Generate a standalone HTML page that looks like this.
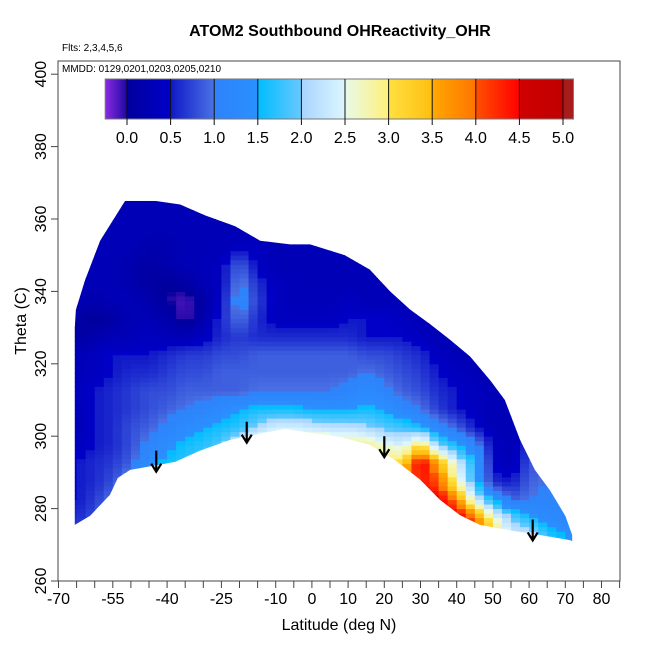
<!DOCTYPE html>
<html><head><meta charset="utf-8"><style>
body{margin:0;background:#fff;}
svg{display:block;font-family:"Liberation Sans",sans-serif;}
</style></head><body>
<svg id="chart" width="650" height="650" viewBox="0 0 650 650">
<defs><clipPath id="env"><polygon id="envpoly" points=""/></clipPath>
<linearGradient id="cbgrad" x1="0" x2="1" y1="0" y2="0"></linearGradient></defs>
<text x="340" y="36" text-anchor="middle" font-size="16" font-weight="bold">ATOM2 Southbound OHReactivity_OHR</text>
<text x="62" y="51" font-size="10">Flts: 2,3,4,5,6</text>
<g id="cells" clip-path="url(#env)"></g>
<g id="arrows"></g>
<rect x="58" y="61" width="562" height="520" fill="none" stroke="#444" stroke-width="1"/>
<text x="62" y="72" font-size="10">MMDD: 0129,0201,0203,0205,0210</text>
<g id="colorbar"></g>
<g id="xaxis"></g>
<g id="yaxis"></g>
<text x="339" y="630" text-anchor="middle" font-size="16">Latitude (deg N)</text>
<text transform="translate(26,321) rotate(-90)" text-anchor="middle" font-size="16">Theta (C)</text>
</svg>
<script>
const lats=[-65,-60,-55,-50,-45,-40,-35,-30,-25,-20,-15,-10,-5,0,5,10,15,20,25,30,35,40,45,50,55,60,65,70];
const thetas=[362.5,357.5,352.5,347.5,342.5,337.5,332.5,327.5,322.5,317.5,312.5,307.5,302.5,297.5,292.5,287.5,282.5,277.5,272.5];
const values=[
[0.3,0.3,0.3,0.3,0.3,0.3,0.3,0.3,0.3,0.3,0.3,0.3,0.3,0.3,0.3,0.3,0.3,0.3,0.3,0.3,0.3,0.3,0.3,0.3,0.3,0.3,0.3,0.3],
[0.3,0.3,0.3,0.3,0.3,0.3,0.3,0.3,0.3,0.3,0.3,0.3,0.3,0.3,0.3,0.3,0.3,0.3,0.3,0.3,0.3,0.3,0.3,0.3,0.3,0.3,0.3,0.3],
[0.3,0.3,0.3,0.3,0.2,0.2,0.3,0.3,0.3,0.4,0.4,0.3,0.3,0.3,0.3,0.3,0.3,0.3,0.3,0.3,0.3,0.3,0.3,0.3,0.3,0.3,0.3,0.3],
[0.3,0.3,0.3,0.2,0.1,0.2,0.3,0.3,0.4,0.9,0.4,0.3,0.3,0.3,0.3,0.3,0.3,0.3,0.3,0.3,0.3,0.3,0.3,0.3,0.3,0.3,0.3,0.3],
[0.3,0.3,0.3,0.2,0.1,0.0,0.1,0.3,0.4,1.1,0.6,0.4,0.3,0.3,0.3,0.3,0.3,0.3,0.3,0.3,0.3,0.3,0.3,0.3,0.3,0.3,0.3,0.3],
[0.3,0.2,0.3,0.3,0.2,0.0,-0.1,0.1,0.5,1.2,0.7,0.4,0.3,0.3,0.3,0.4,0.3,0.3,0.3,0.3,0.3,0.3,0.3,0.3,0.3,0.3,0.3,0.3],
[0.1,0.0,0.1,0.3,0.3,0.2,-0.1,0.2,0.6,1.0,0.6,0.4,0.4,0.4,0.4,0.5,0.5,0.5,0.4,0.3,0.3,0.3,0.3,0.3,0.3,0.3,0.3,0.3],
[0.1,0.2,0.3,0.3,0.4,0.3,0.3,0.4,0.6,0.7,0.6,0.6,0.6,0.6,0.6,0.6,0.5,0.5,0.5,0.4,0.3,0.3,0.1,0.3,0.3,0.3,0.3,0.3],
[0.3,0.4,0.5,0.5,0.5,0.6,0.7,0.7,0.8,0.8,0.9,0.9,0.9,0.9,0.9,0.9,0.8,0.8,0.7,0.6,0.4,0.3,0.3,0.3,0.3,0.3,0.3,0.3],
[0.3,0.4,0.5,0.6,0.6,0.7,0.8,0.8,0.9,0.9,0.9,0.9,0.9,0.9,0.9,0.9,1.0,0.9,0.8,0.7,0.5,0.4,0.3,0.3,0.3,0.3,0.3,0.3],
[0.4,0.5,0.6,0.7,0.8,0.8,0.9,0.9,0.9,0.9,1.0,1.0,1.0,1.0,1.0,1.1,1.3,1.1,0.9,0.8,0.6,0.5,0.4,0.3,0.3,0.3,0.3,0.3],
[0.3,0.5,0.6,0.7,0.8,0.9,1.0,1.1,1.3,1.5,1.6,1.6,1.6,1.5,1.5,1.5,1.6,1.5,1.2,1.0,0.7,0.5,0.4,0.3,0.3,0.3,0.4,0.5],
[0.3,0.5,0.6,0.8,0.9,1.1,1.3,1.5,1.6,1.7,2.1,2.4,2.4,2.3,2.2,2.2,2.1,1.9,1.8,1.6,1.2,0.9,0.5,0.3,0.3,0.4,0.6,0.8],
[0.4,0.5,0.6,0.8,1.1,1.4,1.6,1.7,1.9,2.6,2.9,3.0,3.0,3.0,3.0,3.0,2.9,2.6,2.4,3.2,2.0,1.6,1.2,0.4,0.3,0.6,0.9,1.0],
[0.5,0.6,0.7,0.9,1.4,1.6,1.7,1.8,2.2,3.0,3.0,3.0,3.0,3.0,3.0,3.0,3.0,3.0,3.2,4.6,3.6,2.4,1.6,0.5,0.3,0.8,1.0,1.1],
[0.5,0.6,0.8,1.2,1.6,1.7,1.8,1.8,2.2,3.0,3.0,3.0,3.0,3.0,3.0,3.0,3.0,3.0,3.5,4.4,4.0,2.8,1.7,0.6,0.5,0.9,1.0,1.1],
[0.5,0.7,1.0,1.5,1.6,1.7,1.8,1.8,2.2,3.0,3.0,3.0,3.0,3.0,3.0,3.0,3.0,3.0,3.5,4.6,4.6,3.8,2.4,1.6,0.9,1.0,1.1,1.1],
[0.6,0.8,1.2,1.5,1.6,1.7,1.8,1.8,2.2,3.0,3.0,3.0,3.0,3.0,3.0,3.0,3.0,3.0,3.5,4.6,4.8,4.7,4.0,2.6,2.0,1.6,1.3,1.2],
[0.8,1.0,1.3,1.5,1.6,1.7,1.8,1.8,2.2,3.0,3.0,3.0,3.0,3.0,3.0,3.0,3.0,3.0,3.5,4.6,4.8,4.8,3.6,3.6,2.3,2.4,1.7,1.5]
];
const topLat=[-65.5,-65.2,-62.7,-58.5,-51.6,-43.3,-36.4,-29.5,-21.2,-14.3,-6,-0.5,9.1,16,21.6,27.1,32.6,38.2,43.7,49.2,53.3,57.5,61.6,65.8,70,71.9];
const topTheta=[330,334.9,343,354,365,365,364,361,358,354,353,353,350,346,340,335,331,326.6,322,315.5,310,299,290.7,285,278,272.7];
const botLat=[71.9,71.3,63,54.7,46.4,40.9,35.4,29.9,23,16,7.8,-0.5,-7.4,-13,-22.6,-30.9,-37.8,-50.2,-53.6,-55.8,-61.3,-65.5];
const botTheta=[271,271.3,272.7,274,275.5,278.2,282.4,288,293.4,297.6,299.8,301,302,301,299,296,292.9,290.7,288.5,283.8,278,275.5];
const xTicks=[-70,-65,-60,-55,-50,-45,-40,-35,-30,-25,-20,-15,-10,-5,0,5,10,15,20,25,30,35,40,45,50,55,60,65,70,75,80,85];
const xLabels=[-70,-55,-40,-25,-10,0,10,20,30,40,50,60,70,80];
const yTicks=[260,280,300,320,340,360,380,400];
const cbTicks=[0.0,0.5,1.0,1.5,2.0,2.5,3.0,3.5,4.0,4.5,5.0];
const arrowLat=[-43,-18,20,61];
const arrowTheta=[296,304,300,277];

const NS='http://www.w3.org/2000/svg';
const xs=l=>58.5+(l+70)*3.62;
const ys=t=>581-(t-260)*3.62;
const stops=[[-0.25,[138,43,226]],[-0.02,[40,10,170]],[0,[0,0,156]],[0.5,[0,0,200]],[0.5,[16,24,200]],[1.0,[74,114,228]],[1.0,[46,130,250]],[1.5,[42,144,255]],[1.5,[0,188,255]],[2.0,[104,200,255]],[2.0,[168,212,255]],[2.5,[220,246,255]],[2.5,[232,250,232]],[3.0,[255,240,122]],[3.0,[255,224,64]],[3.5,[255,190,16]],[3.5,[255,168,0]],[4.0,[255,116,0]],[4.0,[255,80,0]],[4.5,[255,0,0]],[4.5,[208,0,0]],[5.0,[192,0,0]],[5.0,[168,28,28]],[5.2,[168,28,28]]];
function col(v){
  if(v<=stops[0][0])return 'rgb('+stops[0][1]+')';
  for(let i=0;i<stops.length-1;i++){const a=stops[i],b=stops[i+1];
    if(v>=a[0]&&v<=b[0]&&b[0]>a[0]){const f=(v-a[0])/(b[0]-a[0]);
      return 'rgb('+a[1].map((c,k)=>Math.round(c+(b[1][k]-c)*f)).join(',')+')';}}
  return 'rgb('+stops[stops.length-1][1]+')';
}
function mk(tag,attrs,parent){const e=document.createElementNS(NS,tag);for(const k in attrs)e.setAttribute(k,attrs[k]);parent.appendChild(e);return e;}
// sample the grid (bilinear, used only for smooth rendering)
function sample(l,t){
  let fj=(l-lats[0])/5, fi=(thetas[0]-t)/5;
  fj=Math.max(0,Math.min(lats.length-1,fj)); fi=Math.max(0,Math.min(thetas.length-1,fi));
  const j0=Math.floor(fj),i0=Math.floor(fi),j1=Math.min(j0+1,lats.length-1),i1=Math.min(i0+1,thetas.length-1);
  const a=fj-j0,b=fi-i0;
  return (values[i0][j0]*(1-a)+values[i0][j1]*a)*(1-b)+(values[i1][j0]*(1-a)+values[i1][j1]*a)*b;
}
let pts=[];topLat.forEach((l,i)=>pts.push(xs(l)+','+ys(topTheta[i])));botLat.forEach((l,i)=>pts.push(xs(l)+','+ys(botTheta[i])));
document.getElementById('envpoly').setAttribute('points',pts.join(' '));
const cg=document.getElementById('cells');
const dl=2.5, dt=1.25;
for(let l=lats[0]-2.5; l<lats[lats.length-1]+2.5; l+=dl){
  for(let t=thetas[thetas.length-1]-2.5; t<thetas[0]+2.5; t+=dt){
    const v=sample(l+dl/2,t+dt/2);
    const r=mk('rect',{x:xs(l),y:ys(t+dt),width:dl*3.62+0.5,height:dt*3.62+0.5,fill:col(v)},cg);
    
    
  }
}
const ag=document.getElementById('arrows');
arrowLat.forEach((l,i)=>{const x=xs(l),y0=ys(arrowTheta[i]),y1=y0+21;
  const p=mk('path',{d:`M${x},${y0}L${x},${y1}M${x-5},${y1-8}L${x},${y1}L${x+5},${y1-8}`,stroke:'#000','stroke-width':2.2,fill:'none'},ag);
  
  
});
const cb=document.getElementById('colorbar');
const cbx=v=>127+v*87.2, cbL=-0.25, cbR=5.12;
const gr=document.getElementById('cbgrad');
stops.forEach(s=>{const st=document.createElementNS(NS,'stop');st.setAttribute('offset',Math.min(100,(s[0]-cbL)/(cbR-cbL)*100).toFixed(2)+'%');st.setAttribute('stop-color','rgb('+s[1]+')');gr.appendChild(st);});
const cbr=mk('rect',{x:cbx(cbL),y:79,width:cbx(cbR)-cbx(cbL),height:40,fill:'url(#cbgrad)',stroke:'#777','stroke-width':1},cb);


cbTicks.forEach(v=>{
  const ln=mk('line',{x1:cbx(v),x2:cbx(v),y1:79,y2:125,stroke:'#111','stroke-width':1},cb);
  
  
  const tx=mk('text',{x:cbx(v),y:143,'text-anchor':'middle','font-size':16},cb);tx.textContent=v.toFixed(1);
  
  
});
const xg=document.getElementById('xaxis');
xTicks.forEach(v=>{const ln=mk('line',{x1:xs(v),x2:xs(v),y1:581,y2:588,stroke:'#444'},xg);
  
  });
xLabels.forEach(v=>{const t=mk('text',{x:xs(v),y:604,'text-anchor':'middle','font-size':16},xg);t.textContent=v;
  
  });
const yg=document.getElementById('yaxis');
yTicks.forEach(v=>{const ln=mk('line',{x1:51,x2:58,y1:ys(v),y2:ys(v),stroke:'#444'},yg);
  
  
  const t=mk('text',{transform:`translate(46,${ys(v)}) rotate(-90)`,'text-anchor':'middle','font-size':16},yg);t.textContent=v;
  
  });
</script>
</body></html>
